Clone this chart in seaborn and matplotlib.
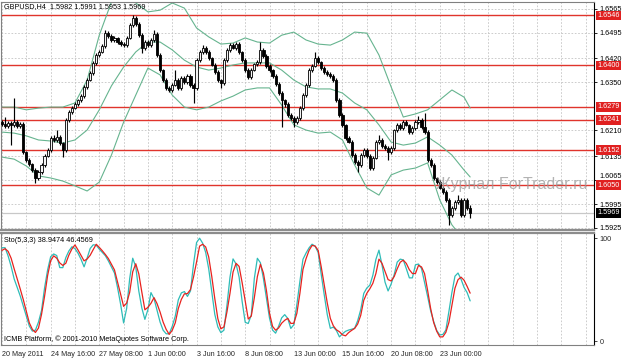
import numpy as np
import matplotlib
matplotlib.use("Agg")
import matplotlib.pyplot as plt
import seaborn as sns
from matplotlib.transforms import blended_transform_factory

sns.set_style("white")
plt.rcParams['font.family'] = ['Liberation Sans', 'DejaVu Sans']

# ---------------- data ----------------
symbol_title = "GBPUSD,H4  1.5982 1.5991 1.5953 1.5969"
sto_title = "Sto(5,3,3) 38.9474 46.4569"
copyright_text = "ICMB Platform, \u00a9 2001-2010 MetaQuotes Software Corp."
watermark = "\u0416\u0443\u0440\u043d\u0430\u043b ForTrader.ru"

first_open = 1.6234
closes = [
    1.6229, 1.6223, 1.6232, 1.6226, 1.6234, 1.6223, 1.6229, 1.6147, 1.6123, 1.6112,
    1.6094, 1.6071, 1.6088, 1.6109, 1.6135, 1.6153, 1.6188, 1.6182, 1.6191, 1.6173,
    1.6153, 1.6240, 1.6264, 1.6275, 1.6287, 1.6299, 1.6310, 1.6337, 1.6357, 1.6378,
    1.6407, 1.6430, 1.6439, 1.6456, 1.6494, 1.6486, 1.6474, 1.6480, 1.6468, 1.6462,
    1.6459, 1.6480, 1.6518, 1.6538, 1.6521, 1.6488, 1.6451, 1.6468, 1.6459, 1.6474,
    1.6491, 1.6430, 1.6386, 1.6357, 1.6334, 1.6328, 1.6343, 1.6357, 1.6334, 1.6363,
    1.6351, 1.6369, 1.6343, 1.6334, 1.6415, 1.6439, 1.6451, 1.6439, 1.6421, 1.6401,
    1.6380, 1.6357, 1.6348, 1.6415, 1.6445, 1.6459, 1.6451, 1.6462, 1.6439, 1.6415,
    1.6386, 1.6366, 1.6386, 1.6404, 1.6410, 1.6445, 1.6427, 1.6398, 1.6386, 1.6369,
    1.6345, 1.6319, 1.6299, 1.6287, 1.6255, 1.6246, 1.6234, 1.6246, 1.6275, 1.6313,
    1.6343, 1.6386, 1.6398, 1.6421, 1.6410, 1.6392, 1.6380, 1.6375, 1.6369, 1.6357,
    1.6299, 1.6255, 1.6226, 1.6188, 1.6176, 1.6138, 1.6118, 1.6109, 1.6138, 1.6153,
    1.6135, 1.6100, 1.6129, 1.6176, 1.6182, 1.6164, 1.6159, 1.6147, 1.6159, 1.6211,
    1.6226, 1.6217, 1.6234, 1.6226, 1.6205, 1.6217, 1.6234, 1.6240, 1.6220, 1.6205,
    1.6123, 1.6109, 1.6071, 1.6059, 1.6042, 1.6030, 1.6007, 1.5963, 1.5983, 1.6001,
    1.6007, 1.5963, 1.6007, 1.5982, 1.5969,
]
upper_wick_pips = [
    6, 20, 5, 6, 71, 5, 6, 5, 4, 5,
    4, 6, 5, 6, 5, 6, 5, 8, 20, 5,
    4, 6, 5, 6, 5, 4, 6, 5, 6, 5,
    6, 5, 6, 5, 8, 5, 6, 5, 4, 6,
    5, 6, 5, 9, 6, 5, 6, 5, 6, 5,
    12, 5, 6, 4, 5, 6, 5, 29, 5, 6,
    5, 6, 5, 4, 6, 5, 8, 5, 6, 4,
    5, 6, 4, 6, 5, 6, 5, 6, 5, 4,
    5, 6, 5, 4, 6, 23, 5, 6, 5, 4,
    5, 6, 5, 4, 6, 5, 6, 5, 6, 5,
    6, 5, 6, 18, 5, 4, 6, 5, 6, 5,
    5, 6, 5, 4, 6, 5, 6, 5, 6, 5,
    6, 5, 6, 5, 14, 6, 5, 6, 5, 4,
    6, 5, 6, 5, 4, 6, 5, 12, 5, 41,
    5, 6, 5, 4, 6, 5, 6, 5, 6, 5,
    14, 5, 6, 6, 9,
]
lower_wick_pips = [
    5, 6, 5, 59, 6, 5, 6, 5, 6, 5,
    6, 15, 5, 6, 5, 4, 6, 5, 6, 5,
    21, 5, 6, 5, 4, 6, 5, 6, 5, 4,
    5, 6, 5, 4, 6, 5, 6, 5, 6, 5,
    6, 5, 4, 6, 5, 6, 15, 5, 6, 5,
    5, 6, 5, 6, 5, 6, 5, 4, 6, 5,
    6, 5, 6, 44, 5, 6, 5, 6, 5, 4,
    5, 6, 14, 5, 6, 5, 4, 6, 5, 6,
    5, 6, 5, 4, 6, 5, 6, 5, 6, 5,
    6, 5, 80, 10, 5, 6, 14, 5, 6, 5,
    5, 6, 5, 4, 6, 5, 6, 5, 6, 5,
    6, 5, 6, 5, 4, 6, 5, 21, 5, 6,
    5, 6, 5, 4, 6, 5, 6, 24, 5, 6,
    5, 6, 5, 4, 6, 5, 6, 5, 6, 5,
    6, 5, 6, 5, 4, 6, 5, 29, 5, 6,
    5, 6, 5, 4, 16,
]

band_bars = [0, 4, 8, 12, 16, 20, 24, 28, 32, 36, 40, 44, 48, 52, 56, 60, 64, 68, 72, 76,
             80, 84, 88, 92, 96, 100, 104, 108, 112, 116, 120, 124, 128, 132, 136, 140,
             144, 148, 152, 154]
bb_upper = [1.6278, 1.6278, 1.6270, 1.6275, 1.6278, 1.6278, 1.6290, 1.6357, 1.6488, 1.6585,
            1.6597, 1.6582, 1.6556, 1.6561, 1.6582, 1.6567, 1.6509, 1.6483, 1.6462, 1.6465,
            1.6480, 1.6468, 1.6465, 1.6488, 1.6497, 1.6474, 1.6462, 1.6459, 1.6474, 1.6497,
            1.6494, 1.6430, 1.6337, 1.6249, 1.6258, 1.6270, 1.6299, 1.6328, 1.6307, 1.6275]
bb_middle = [1.6205, 1.6202, 1.6194, 1.6182, 1.6179, 1.6173, 1.6182, 1.6211, 1.6270, 1.6340,
             1.6395, 1.6439, 1.6468, 1.6468, 1.6445, 1.6415, 1.6395, 1.6386, 1.6392, 1.6401,
             1.6407, 1.6407, 1.6407, 1.6386, 1.6357, 1.6337, 1.6331, 1.6331, 1.6319, 1.6290,
             1.6270, 1.6226, 1.6176, 1.6167, 1.6173, 1.6191, 1.6167, 1.6138, 1.6094, 1.6074]
bb_lower = [1.6132, 1.6126, 1.6106, 1.6077, 1.6071, 1.6062, 1.6048, 1.6033, 1.6059, 1.6138,
            1.6234, 1.6313, 1.6392, 1.6372, 1.6313, 1.6278, 1.6270, 1.6278, 1.6296, 1.6310,
            1.6328, 1.6334, 1.6334, 1.6284, 1.6226, 1.6211, 1.6202, 1.6205, 1.6182, 1.6109,
            1.6042, 1.6021, 1.6080, 1.6094, 1.6100, 1.6115, 1.6007, 1.5934, 1.5890, 1.5872]

sto_main = [
    90.5, 90.6, 82.7, 72.5, 60.3, 52.0, 43.7, 34.0, 24.0, 14.4,
    9.6, 10.6, 18.4, 29.6, 51.5, 69.0, 81.8, 84.5, 83.0, 71.3,
    71.2, 81.0, 87.4, 91.5, 89.7, 85.3, 79.3, 72.0, 80.5, 89.8,
    93.4, 93.0, 89.2, 86.0, 82.8, 77.7, 71.9, 66.0, 52.0, 36.0,
    17.5, 31.6, 60.5, 80.4, 72.0, 48.5, 32.0, 21.0, 30.5, 47.0,
    41.2, 29.7, 18.4, 10.5, 7.0, 7.0, 14.2, 24.2, 40.0, 46.7,
    48.0, 43.3, 48.6, 74.5, 95.6, 99.8, 95.0, 86.0, 70.0, 48.3,
    25.8, 13.7, 8.1, 10.5, 34.7, 62.0, 79.7, 74.8, 62.0, 38.2,
    18.1, 17.0, 25.2, 60.7, 80.3, 76.0, 60.5, 41.1, 22.1, 10.6,
    7.6, 14.4, 22.5, 25.6, 21.9, 12.2, 15.8, 35.5, 58.1, 79.3,
    85.3, 90.4, 94.0, 92.0, 86.0, 64.8, 44.8, 25.6, 12.3, 13.5,
    10.2, 4.0, 7.0, 9.4, 10.6, 11.4, 12.4, 19.7, 30.4, 46.2,
    51.4, 54.2, 63.9, 79.3, 88.2, 73.8, 57.1, 48.6, 55.3, 64.3,
    76.6, 79.5, 78.7, 70.2, 61.3, 61.3, 74.0, 74.7, 70.4, 56.9,
    43.3, 29.3, 18.9, 10.2, 5.9, 6.3, 10.6, 28.5, 47.2, 62.9,
    66.0, 60.0, 52.0, 47.0, 38.9474,
]
sto_signal = [
    88.0, 89.6, 87.1, 80.4, 70.1, 60.4, 50.5, 40.2, 29.0, 17.5,
    11.2, 8.3, 12.6, 25.8, 43.4, 63.5, 77.8, 82.7, 80.4, 75.8,
    73.4, 75.5, 83.4, 89.4, 93.3, 88.4, 83.2, 77.8, 79.6, 83.2,
    88.7, 93.9, 90.9, 87.6, 84.0, 80.0, 74.5, 69.0, 57.5, 45.7,
    33.6, 36.8, 47.3, 67.2, 75.0, 65.2, 47.4, 30.3, 32.7, 36.6,
    42.1, 36.3, 28.1, 18.4, 11.3, 6.4, 10.4, 17.7, 31.6, 40.4,
    45.8, 46.0, 50.0, 62.1, 76.7, 92.1, 93.9, 91.3, 81.5, 62.7,
    41.1, 21.7, 11.8, 13.7, 28.3, 46.4, 67.0, 75.4, 72.4, 56.5,
    38.9, 21.3, 24.2, 42.0, 62.5, 74.5, 66.0, 48.8, 26.9, 14.2,
    10.5, 12.7, 17.3, 20.1, 22.0, 17.1, 17.2, 26.9, 46.4, 69.5,
    79.8, 87.9, 92.8, 92.2, 88.0, 72.1, 54.5, 36.8, 22.0, 14.7,
    10.9, 9.0, 6.0, 5.0, 8.1, 10.3, 12.2, 16.5, 24.9, 39.5,
    46.3, 50.7, 56.1, 65.6, 79.5, 75.4, 67.5, 59.6, 58.3, 62.5,
    70.1, 76.5, 78.5, 75.3, 69.2, 65.5, 65.5, 73.4, 71.9, 65.4,
    49.2, 31.6, 17.9, 9.5, 4.0, 4.0, 8.4, 18.0, 34.8, 51.3,
    59.5, 62.0, 59.0, 53.0, 46.4569,
]

level_lines = [1.6546, 1.6400, 1.6279, 1.6241, 1.6152, 1.6050]
bid_price = 1.5969
price_ticks = [1.6565, 1.6495, 1.6420, 1.6350, 1.6210, 1.6135, 1.6065, 1.5995, 1.5925]
time_label_bars = [0, 16, 32, 48, 64, 80, 96, 112, 128, 144]
time_labels = ["20 May 2011", "24 May 16:00", "27 May 08:00", "1 Jun 00:00", "3 Jun 16:00",
               "8 Jun 08:00", "13 Jun 00:00", "15 Jun 16:00", "20 Jun 08:00", "23 Jun 00:00"]
grid_bars = list(range(0, 195, 8))

# ---------------- derived OHLC ----------------
n = len(closes)
bars = np.arange(n)
c = np.array(closes)
o = np.array([first_open] + closes[:-1])
hi = np.maximum(o, c) + np.array(upper_wick_pips) / 1e4
lo = np.minimum(o, c) - np.array(lower_wick_pips) / 1e4

# ---------------- figure layout ----------------
W, H = 623, 359
fig = plt.figure(figsize=(W / 100, H / 100), dpi=100)
fig.patch.set_facecolor('white')


def rect(x0, y0, x1, y1):
    return [x0 / W, 1 - y1 / H, (x1 - x0) / W, (y1 - y0) / H]


ax = fig.add_axes(rect(1, 2, 594, 230))
ax2 = fig.add_axes(rect(1, 233, 594, 345))

px_per_bar = 3.04
xlim = ((1 - 2) / px_per_bar, (594 - 2) / px_per_bar)
p_per_px = 0.000292
p_top = 1.65907 - p_per_px * 2
p_bot = 1.65907 - p_per_px * 230

FS = 5.2
grid_kw = dict(color='#c4c4c4', lw=0.6, ls=(0, (2, 2)))
band_col = '#66b48f'

# ---------- main panel ----------
ax.set_xlim(*xlim)
ax.set_ylim(p_bot, p_top)
for b in grid_bars:
    ax.axvline(b, zorder=0, **grid_kw)
for t in price_ticks:
    ax.axhline(t, zorder=0, **grid_kw)

ax.axhline(bid_price, color='#c8c8c8', lw=0.9, zorder=1)
for lv in level_lines:
    ax.axhline(lv, color='#e0342c', lw=1.0, zorder=1)

for ys in (bb_upper, bb_middle, bb_lower):
    sns.lineplot(x=band_bars, y=ys, ax=ax, color=band_col, lw=0.8, legend=False, zorder=2)

ax.vlines(bars, lo, hi, color='black', lw=0.85, zorder=3)
body_h = np.maximum(np.abs(c - o), 0.00004)
body_b = np.minimum(o, c)
is_up = c >= o
ax.bar(bars, body_h, bottom=body_b, width=0.72,
       color=np.where(is_up, '#f4f4f4', 'black'), edgecolor='black', linewidth=0.6, zorder=4)

ax.yaxis.tick_right()
ax.set_yticks(price_ticks)
ax.set_yticklabels([f"{t:.4f}" for t in price_ticks], fontsize=FS)
ax.tick_params(axis='y', length=2, width=0.6, pad=2, colors='black')
for lab in ax.get_yticklabels():
    if lab.get_text() == "1.6065":
        lab.set_va('bottom')
ax.set_xticks([])
ax.set_xlabel('')
ax.set_ylabel('')

btf = blended_transform_factory(ax.transAxes, ax.transData)
for lv in level_lines:
    ax.text(1.0055, lv, f"{lv:.4f}", transform=btf, fontsize=FS, color='white',
            ha='left', va='center', clip_on=False, zorder=6,
            bbox=dict(boxstyle='square,pad=0.18', fc='#e02020', ec='none'))
ax.text(1.0055, bid_price, f"{bid_price:.4f}", transform=btf, fontsize=FS, color='white',
        ha='left', va='center', clip_on=False, zorder=6,
        bbox=dict(boxstyle='square,pad=0.18', fc='black', ec='none'))

for s in ['left', 'top']:
    ax.spines[s].set_color('#808080')
    ax.spines[s].set_linewidth(0.8)
ax.spines['right'].set_color('black')
ax.spines['right'].set_linewidth(0.8)
ax.spines['bottom'].set_color('#8c8c8c')
ax.spines['bottom'].set_linewidth(1.6)

# ---------- stochastic panel ----------
ax2.set_xlim(*xlim)
ax2.set_ylim((341 - 345) / 1.03, (341 - 233) / 1.03)
for b in grid_bars:
    ax2.axvline(b, zorder=0, **grid_kw)
sns.lineplot(x=bars, y=sto_main, ax=ax2, color='#2ebcb8', lw=0.9, legend=False, zorder=3)
sns.lineplot(x=bars, y=sto_signal, ax=ax2, color='#e8221e', lw=0.9, legend=False, zorder=4)

ax2.yaxis.tick_right()
ax2.set_yticks([0, 100])
ax2.set_yticklabels(['0', '100'], fontsize=FS)
ax2.tick_params(axis='y', length=2, width=0.6, pad=2)
ax2.set_xticks(time_label_bars)
ax2.set_xticklabels(time_labels, fontsize=FS, ha='left')
ax2.tick_params(axis='x', length=3, width=0.6, pad=1.2)
ax2.set_xlabel('')
ax2.set_ylabel('')
for s in ['left', 'bottom']:
    ax2.spines[s].set_color('#808080')
    ax2.spines[s].set_linewidth(0.8)
ax2.spines['right'].set_color('black')
ax2.spines['right'].set_linewidth(0.8)
ax2.spines['top'].set_color('#8c8c8c')
ax2.spines['top'].set_linewidth(1.6)

# ---------- texts ----------
fig.text(4 / W, 1 - 6.5 / H, symbol_title, fontsize=FS, ha='left', va='center', color='black')
fig.text(4 / W, 1 - 240 / H, sto_title, fontsize=FS, ha='left', va='center', color='black')
fig.text(4 / W, 1 - 339 / H, copyright_text, fontsize=FS, ha='left', va='center', color='black')
fig.text(436 / W, 1 - 185 / H, watermark, fontsize=11.5, ha='left', va='center',
         color='#9a9a9a', alpha=0.75)

fig.savefig('out.png', dpi=100, facecolor='white')
